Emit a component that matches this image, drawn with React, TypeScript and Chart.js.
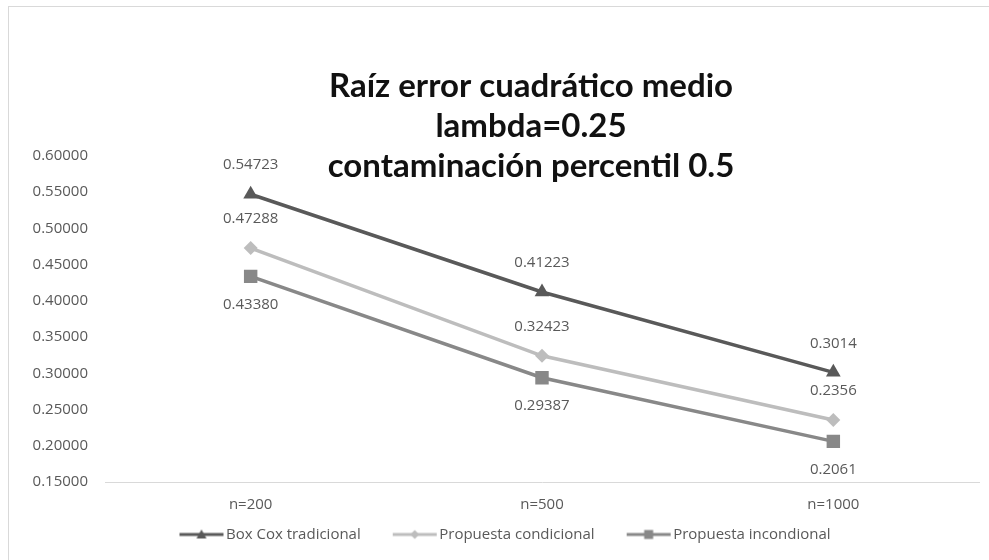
import { useEffect, useRef } from "react";
import { Chart, registerables } from "chart.js";

Chart.register(...registerables);

// Sample sizes along the category axis
const categories = ["n=200", "n=500", "n=1000"];

// Series names, in legend order
const seriesNames = ["Box Cox tradicional", "Propuesta condicional", "Propuesta incondional"];

// RMSE values as printed next to each point; the plotted numbers come from these strings
const boxCoxValues = ["0.54723", "0.41223", "0.3014"];
const condicionalValues = ["0.47288", "0.32423", "0.2356"];
const incondicionalValues = ["0.43380", "0.29387", "0.2061"];

// Title lines
const titleLines = ["Raíz error cuadrático medio", "lambda=0.25", "contaminación percentil 0.5"];

// Value axis range and tick step
const yMin = 0.15;
const yMax = 0.6;
const yStep = 0.05;
const yDecimals = 5;

const TEXT = "#595959";
const FONT = "'Open Sans', 'DejaVu Sans', sans-serif";
const SMALL = 15;

type Marker = "triangle" | "rectRot" | "rect";

const seriesStyle: { color: string; marker: Marker; radius: number; labelSide: "above" | "below" }[] = [
  { color: "#595959", marker: "triangle", radius: 8.5, labelSide: "above" },
  { color: "#bdbdbd", marker: "rectRot", radius: 7, labelSide: "above" },
  { color: "#888888", marker: "rect", radius: 9.5, labelSide: "below" },
];

const seriesValues = [boxCoxValues, condicionalValues, incondicionalValues];

// Small line-with-marker swatch used as the legend symbol
function legendSwatch(color: string, marker: Marker): HTMLCanvasElement {
  const c = document.createElement("canvas");
  c.width = 73;
  c.height = 16;
  const g = c.getContext("2d")!;
  g.strokeStyle = color;
  g.fillStyle = color;
  g.lineWidth = 3;
  g.beginPath();
  g.moveTo(28, 8);
  g.lineTo(72, 8);
  g.stroke();
  const cx = 50;
  const cy = 8;
  g.beginPath();
  if (marker === "triangle") {
    g.moveTo(cx, cy - 5);
    g.lineTo(cx + 5, cy + 4);
    g.lineTo(cx - 5, cy + 4);
    g.closePath();
  } else if (marker === "rectRot") {
    g.moveTo(cx, cy - 4.5);
    g.lineTo(cx + 4.5, cy);
    g.lineTo(cx, cy + 4.5);
    g.lineTo(cx - 4.5, cy);
    g.closePath();
  } else {
    g.rect(cx - 4.5, cy - 4.5, 9, 9);
  }
  g.fill();
  return c;
}

// Three-line bold title drawn over the upper part of the chart
const titlePlugin = {
  id: "stackedTitle",
  afterDraw(chart: Chart) {
    const { ctx } = chart;
    ctx.save();
    ctx.fillStyle = "#111111";
    ctx.font = `bold 33px Lato, 'Open Sans', sans-serif`;
    ctx.textAlign = "center";
    ctx.textBaseline = "middle";
    titleLines.forEach((line, i) => {
      ctx.fillText(line, 522, 79 + i * 40);
    });
    ctx.restore();
  },
};

// Value labels placed above or below each point
const valueLabelPlugin = {
  id: "valueLabels",
  afterDatasetsDraw(chart: Chart) {
    const { ctx } = chart;
    ctx.save();
    ctx.fillStyle = TEXT;
    ctx.font = `${SMALL}px ${FONT}`;
    ctx.textAlign = "center";
    ctx.textBaseline = "middle";
    chart.data.datasets.forEach((_ds, di) => {
      const meta = chart.getDatasetMeta(di);
      const side = seriesStyle[di].labelSide;
      meta.data.forEach((pt, pi) => {
        const text = seriesValues[di][pi];
        const dy = side === "above" ? -29 : 28;
        ctx.fillText(text, pt.x, pt.y + dy);
      });
    });
    ctx.restore();
  },
};

export default function App() {
  const canvasRef = useRef<HTMLCanvasElement | null>(null);

  useEffect(() => {
    const canvas = canvasRef.current;
    if (!canvas) return;

    const swatches = seriesStyle.map((s) => legendSwatch(s.color, s.marker));

    const chart = new Chart(canvas, {
      type: "line",
      data: {
        labels: categories,
        datasets: seriesNames.map((name, i) => ({
          label: name,
          data: seriesValues[i].map(Number),
          borderColor: seriesStyle[i].color,
          backgroundColor: seriesStyle[i].color,
          borderWidth: 3.5,
          pointStyle: seriesStyle[i].marker,
          pointRadius: seriesStyle[i].radius,
          pointHoverRadius: seriesStyle[i].radius,
          pointBackgroundColor: seriesStyle[i].color,
          pointBorderColor: seriesStyle[i].color,
          pointBorderWidth: 0,
          tension: 0,
          fill: false,
        })),
      },
      options: {
        animation: false,
        responsive: true,
        maintainAspectRatio: false,
        layout: { padding: { top: 149, right: 10, bottom: 8, left: 0 } },
        scales: {
          x: {
            type: "category",
            offset: true,
            grid: { display: false, drawTicks: false },
            border: { display: true, color: "#d9d9d9", width: 1 },
            ticks: { color: TEXT, font: { family: FONT, size: SMALL }, padding: 14 },
            afterFit: (s: any) => {
              s.height = 35;
            },
          },
          y: {
            type: "linear",
            min: yMin,
            max: yMax,
            grid: { display: false, drawTicks: false },
            border: { display: false },
            ticks: {
              stepSize: yStep,
              color: TEXT,
              font: { family: FONT, size: SMALL },
              padding: 17,
              callback: (v: any) => Number(v).toFixed(yDecimals),
            },
            afterFit: (s: any) => {
              s.width = 96;
            },
          },
        },
        plugins: {
          title: { display: false },
          tooltip: { enabled: false },
          legend: {
            position: "bottom",
            labels: {
              usePointStyle: true,
              pointStyleWidth: 61,
              padding: 10,
              color: TEXT,
              font: { family: FONT, size: SMALL },
              generateLabels: (ch: Chart) =>
                Chart.defaults.plugins.legend.labels.generateLabels(ch).map((item, i) => ({
                  ...item,
                  pointStyle: swatches[i] as any,
                  fontColor: TEXT,
                })),
            },
          },
        },
      },
      plugins: [valueLabelPlugin, titlePlugin],
    });

    return () => chart.destroy();
  }, []);

  return (
    <div
      style={{
        position: "fixed",
        left: 8,
        top: 6,
        width: 981,
        height: 554,
        borderLeft: "1px solid #d9d9d9",
        borderTop: "1px solid #d9d9d9",
        boxSizing: "border-box",
        background: "#ffffff",
      }}
    >
      <canvas ref={canvasRef} />
    </div>
  );
}
